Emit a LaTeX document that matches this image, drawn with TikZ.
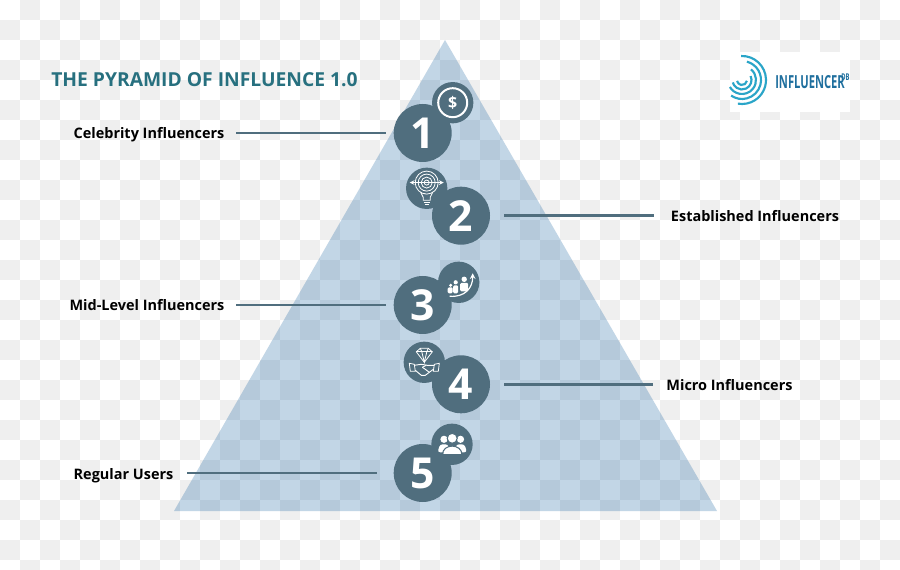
\documentclass[tikz,border=0pt]{standalone}
\usepackage{xcolor}
\usepackage{fontspec}
\setmainfont{Open Sans}
\usetikzlibrary{arrows, positioning}
\definecolor{slate}{HTML}{506E7E}
\definecolor{teal}{HTML}{27707F}
\definecolor{pyramidblue}{RGB}{0,84,152}
\definecolor{ringblue}{HTML}{2AA5C8}
\definecolor{logoblue}{HTML}{1F6F9E}

\begin{document}
\begin{tikzpicture}[
    x=0.75pt, y=-0.75pt,
    bignum/.style={circle, fill=slate, text=white, minimum size=43.5pt, inner sep=0pt, outer sep=0pt, font=\bfseries\fontsize{32}{32}\selectfont},
    smallcirc/.style={circle, fill=slate, text=white, minimum size=31pt, inner sep=0pt, outer sep=0pt},
    tag/.style={inner sep=0pt, outer sep=0pt, text height=9.5pt, text depth=0.5pt, font=\bfseries\fontsize{10.85}{12}\selectfont},
    leader/.style={draw=slate, line width=2.2pt},
    icon/.style={draw=white, line width=0.6pt},
    iconfill/.style={fill=white}
]

% Background
\path[use as bounding box] (0,0) rectangle (900,570);
\fill[white] (0,0) rectangle (900,570);
\begin{scope}
\clip (0,0) rectangle (900,570);
\foreach \col in {0,...,44}
  \foreach \row in {0,...,28} {
    \pgfmathtruncatemacro{\cellodd}{mod(\col+\row,2)}
    \ifnum\cellodd=1
      \fill[black!6.3] (\col*20,\row*20) rectangle ++(20,20);
    \fi
  }
\end{scope}

% Pyramid
\fill[pyramidblue, fill opacity=0.24] (445,40) -- (717,511) -- (174,511) -- cycle;

% Title
\node[anchor=west, inner sep=0pt, text=teal, font=\bfseries\fontsize{14.45}{16}\selectfont] (title) at (51,80) {THE PYRAMID OF INFLUENCE 1.0};

% Logo
\fill[white] (730,52) rectangle (850,112);
\coordinate (logocentre) at (742,80);
\draw[ringblue, line width=1.6pt] (logocentre) ++(-92:24) arc[start angle=-92, end angle=100, radius=24];
\draw[ringblue, line width=1.6pt] (logocentre) ++(-75:19) arc[start angle=-75, end angle=125, radius=19];
\draw[ringblue, line width=1.6pt] (logocentre) ++(-50:14) arc[start angle=-50, end angle=150, radius=14];
\draw[ringblue, line width=1.6pt] (logocentre) ++(-25:9.5) arc[start angle=-25, end angle=165, radius=9.5];
\draw[ringblue, line width=1.6pt] (logocentre) ++(10:5) arc[start angle=10, end angle=170, radius=5];
\node[anchor=west, inner sep=0pt, text=logoblue, font=\bfseries\fontsize{13.5}{14}\selectfont] (logotext) at (775,82) {\scalebox{0.62}[1]{INFLUENCER}};
\node[anchor=west, inner sep=0pt, text=logoblue, font=\bfseries\fontsize{7}{7}\selectfont] (logodb) at (841,77) {\scalebox{0.62}[1]{DB}};

% Small circles
\node[smallcirc, font=\bfseries\fontsize{12}{12}\selectfont] (sm1) at (452.7,102.7) {\$};
\node[smallcirc] (sm2) at (426.7,188.3) {};
\node[smallcirc] (sm3) at (458.7,282.3) {};
\node[smallcirc] (sm4) at (424.3,362.3) {};
\node[smallcirc] (sm5) at (452,444.3) {};

% Numbers
\node[bignum] (one) at (422.7,133) {1};
\node[bignum] (two) at (461,215.7) {2};
\node[bignum] (three) at (422.7,305) {3};
\node[bignum] (four) at (461,384.3) {4};
\node[bignum] (five) at (422.7,473) {5};

% Labels
\node[tag] (celebrity) at (149,133) {Celebrity Influencers};
\node[tag] (established) at (755,215.7) {Established Influencers};
\node[tag] (midlevel) at (147,305) {Mid-Level Influencers};
\node[tag] (micro) at (729.5,384.3) {Micro Influencers};
\node[tag] (regular) at (123.5,473) {Regular Users};

% Leader lines
\draw[leader, shorten <=9pt, shorten >=6pt] (celebrity) -- (one);
\draw[leader, shorten <=10.5pt, shorten >=12.75pt] (two) -- (established);
\draw[leader, shorten <=9pt, shorten >=6pt] (midlevel) -- (three);
\draw[leader, shorten <=10.5pt, shorten >=9.75pt] (four) -- (micro);
\draw[leader, shorten <=10.5pt, shorten >=12.75pt] (regular) -- (five);

% Icon 1
\draw[white, line width=1.5pt] (sm1) circle[radius=14.5];

% Icon 2
\begin{scope}[shift={(sm2)}]
\foreach \rad in {2.5,5.5,8.5,11.5}
  \draw[icon] (0,-5.7) circle[radius=\rad];
\draw[icon, <->, >=stealth] (-17,-5.7) -- (17,-5.7);
\draw[icon] (-6,4) -- (-3.5,9) -- (-3.5,12) -- (3.5,12) -- (3.5,9) -- (6,4);
\draw[icon] (-3,14) -- (3,14);
\draw[icon] (-2,16) -- (2,16);
\end{scope}

% Icon 3
\begin{scope}[shift={(sm3)}]
\fill[iconfill] (-8,3) circle[radius=1.7];
\fill[iconfill] (-3,0) circle[radius=2.1];
\fill[iconfill] (5.5,-3) circle[radius=2.7];
\fill[iconfill, rounded corners=1pt] (-11,5) rectangle (-6,11);
\fill[iconfill, rounded corners=1pt] (-5.5,3) rectangle (-0.5,11);
\fill[iconfill, rounded corners=1pt] (1.5,0.5) rectangle (9.5,9);
\draw[white, line width=0.9pt, ->, >=stealth] (-9,14) .. controls (6,15) and (14,6) .. (14,-9);
\end{scope}

% Icon 4
\begin{scope}[shift={(sm4)}]
\draw[icon] (-8,-10.5) -- (-4,-14) -- (4,-14) -- (8,-10.5) -- (0,0) -- cycle;
\draw[icon] (-8,-10.5) -- (8,-10.5);
\draw[icon] (-4,-14) -- (-2.5,-10.5) -- (0,0) -- (2.5,-10.5) -- (4,-14);
\draw[icon] (-15,1) -- (-10,2) -- (-9,9) -- (-14,9) -- cycle;
\draw[icon] (15,1) -- (10,2) -- (9,9) -- (14,9) -- cycle;
\draw[icon, line width=0.7pt] (-10,3) -- (-3,2) -- (3,3) -- (10,3);
\draw[icon, line width=0.7pt] (-9,8) -- (-3,13) -- (1,13) -- (9,7);
\draw[icon, line width=0.7pt] (-2,5) -- (2,3);
\draw[icon, line width=0.7pt] (-2,5) -- (1,7) -- (5,10);
\end{scope}

% Icon 5
\begin{scope}[shift={(sm5)}]
\fill[iconfill] (-8,-5) circle[radius=3.6];
\fill[iconfill] (8.5,-5) circle[radius=3.6];
\fill[iconfill, rounded corners=2pt] (-14.5,8) -- (-12,0) -- (-4,0) -- (-2,8) -- cycle;
\fill[iconfill, rounded corners=2pt] (15,8) -- (12.5,0) -- (4.5,0) -- (2,8) -- cycle;
\fill[iconfill, draw=slate, line width=0.8pt] (0.2,-6) circle[radius=5];
\fill[iconfill, draw=slate, line width=0.8pt] (-9.5,10.3) .. controls (-9.5,-1) and (9.9,-1) .. (9.9,10.3) -- cycle;
\end{scope}

\end{tikzpicture}
\end{document}
